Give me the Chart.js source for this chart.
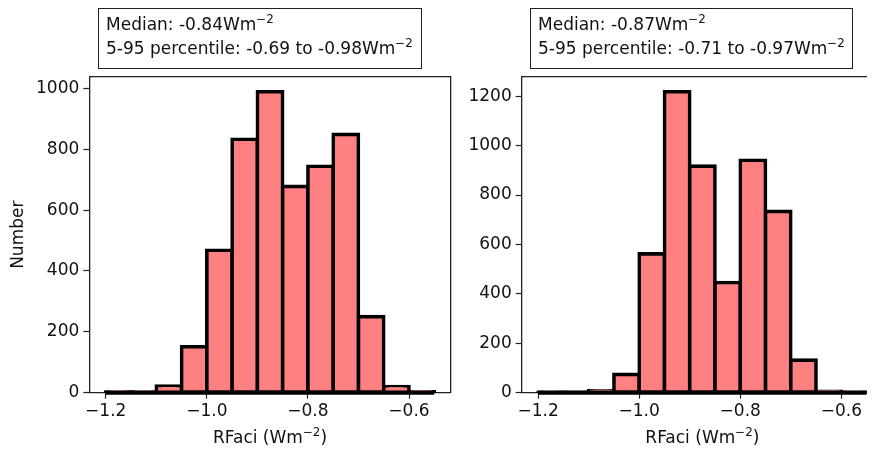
<!DOCTYPE html>
<html>
<head>
<meta charset="utf-8">
<script src="https://cdn.jsdelivr.net/npm/chart.js@4.4.1/dist/chart.umd.min.js"></script>
<style>
html,body{margin:0;padding:0;background:#fff;}
#wrap{position:relative;width:867px;height:450px;overflow:hidden;background:#fff;}
canvas{position:absolute;top:0;}
.box{position:absolute;top:8px;height:61px;box-sizing:border-box;border:1.3px solid #222;
  font-family:'DejaVu Sans';font-size:17px;line-height:23.3px;color:#111;
  padding:4.3px 0 0 7px;white-space:nowrap;}
.xt{position:absolute;top:427px;width:240px;text-align:center;font-family:'DejaVu Sans';
  font-size:17px;line-height:20px;color:#111;white-space:nowrap;}
.sup{font-size:0.7em;vertical-align:0.6em;line-height:0;}
</style>
</head>
<body>
<div id="wrap">
  <canvas id="c1" width="460" height="450" style="left:0"></canvas>
  <canvas id="c2" width="430" height="450" style="left:460px"></canvas>
  <div class="box" id="b1" style="left:98px;width:324px"></div>
  <div class="box" id="b2" style="left:530px;width:323px"></div>
  <div class="xt" id="t1" style="left:150px"></div>
  <div class="xt" id="t2" style="left:582.4px"></div>
</div>
<script>
// ---- data ----
const binEdges = [-1.2, -1.15, -1.1, -1.05, -1.0, -0.95, -0.9, -0.85, -0.8, -0.75, -0.7, -0.65, -0.6, -0.55];
const binCenters = [-1.175, -1.125, -1.075, -1.025, -0.975, -0.925, -0.875, -0.825, -0.775, -0.725, -0.675, -0.625, -0.575];
const countsLeft  = [2, 2, 22, 151, 468, 833, 989, 678, 744, 849, 250, 20, 3];
const countsRight = [1, 1, 8, 74, 562, 1218, 917, 446, 941, 734, 132, 6, 2];
const xTicks = [-1.2, -1.0, -0.8, -0.6];
const yTicksLeft  = [0, 200, 400, 600, 800, 1000];
const yTicksRight = [0, 200, 400, 600, 800, 1000, 1200];
const medians = ['-0.84', '-0.87'];
const pct95 = ['-0.69', '-0.71'];
const pct5  = ['-0.98', '-0.97'];
const xLabelMain = 'RFaci (Wm';
const yLabel = 'Number';

// ---- text ----
const unit = 'Wm<span class="sup">\u22122</span>';
['b1', 'b2'].forEach((id, i) => {
  document.getElementById(id).innerHTML =
    'Median: ' + medians[i] + unit + '<br>5-95 percentile: ' + pct95[i] + ' to ' + pct5[i] + unit;
});
['t1', 't2'].forEach(id => {
  document.getElementById(id).innerHTML = xLabelMain + '<span class="sup">\u22122</span>)';
});

const FS = 17;
Chart.defaults.font.family = "'DejaVu Sans'";
Chart.defaults.font.size = FS;
Chart.defaults.color = '#111';

const XMIN = -1.2325, XMAX = -0.5175;
const fmtX = v => v.toFixed(1).replace('-', '\u2212');
const fmtY = v => String(Math.round(v));

function makeChart(el, counts, yTicks, yMax, cfg) {
  return new Chart(el, {
    type: 'bar',
    data: {
      datasets: [{
        order: 5,
        data: binCenters.map((x, i) => ({x: x, y: counts[i]})),
        backgroundColor: '#ff8080',
        borderColor: '#000',
        borderWidth: 3.6,
        borderSkipped: false,
        inflateAmount: 1.8,
        barPercentage: 1,
        categoryPercentage: 1
      }, {
        type: 'line',
        order: -1,
        clip: false,
        data: [{x: binEdges[0], y: 0}, {x: binEdges[binEdges.length - 1], y: 0}],
        borderColor: '#000',
        backgroundColor: '#000',
        borderWidth: 4.2,
        pointRadius: 0,
        fill: false
      }]
    },
    options: {
      responsive: false,
      animation: false,
      layout: {padding: {top: 76.7, left: 0, right: cfg.padRight, bottom: 0}},
      plugins: {legend: {display: false}, tooltip: {enabled: false}},
      scales: {
        x: {
          type: 'linear', position: 'bottom', min: XMIN, max: XMAX, offset: false,
          grid: {display: true, offset: false, drawOnChartArea: false, drawTicks: true, tickLength: 6, tickColor: '#222', tickWidth: 1.2},
          border: {display: true, color: '#222', width: 1.3},
          ticks: {padding: 3, callback: v => fmtX(v), maxRotation: 0, autoSkip: false},
          afterBuildTicks: s => { s.ticks = xTicks.map(v => ({value: v})); },
          afterFit: s => { s.height = 57.3; }
        },
        y: {
          type: 'linear', position: 'left', min: 0, max: yMax,
          grid: {display: true, drawOnChartArea: false, drawTicks: true, tickLength: 6, tickColor: '#222', tickWidth: 1.2},
          border: {display: true, color: '#222', width: 1.3},
          ticks: {padding: 4, callback: v => fmtY(v), autoSkip: false},
          afterBuildTicks: s => { s.ticks = yTicks.map(v => ({value: v})); },
          afterFit: s => { s.width = cfg.yWidth; },
          title: {display: cfg.showYTitle, text: yLabel, padding: {top: 8, bottom: 0}, font: {size: FS}}
        },
        xTop: {
          type: 'linear', position: 'top', min: XMIN, max: XMAX,
          grid: {display: false}, ticks: {display: false},
          border: {display: true, color: '#222', width: 1.3},
          afterFit: s => { s.height = 0; }
        },
        yRight: {
          type: 'linear', position: 'right', min: 0, max: yMax,
          grid: {display: false}, ticks: {display: false},
          border: {display: true, color: '#222', width: 1.3},
          afterFit: s => { s.width = 0; }
        }
      }
    }
  });
}

makeChart(document.getElementById('c1'), countsLeft, yTicksLeft, 1038.5,
  {padRight: 9.3, yWidth: 89.3, showYTitle: true});
makeChart(document.getElementById('c2'), countsRight, yTicksRight, 1279,
  {padRight: 7, yWidth: 61.7, showYTitle: false});
</script>
</body>
</html>
